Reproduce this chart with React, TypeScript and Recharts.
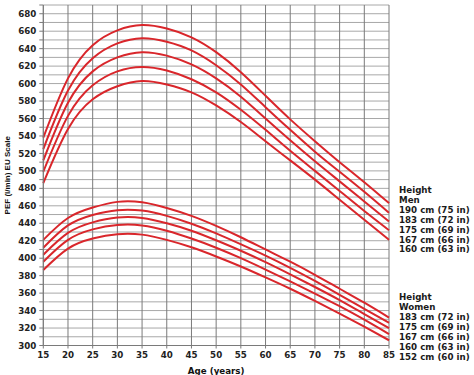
import React from "react";
import { LineChart, Line, XAxis, YAxis, CartesianGrid } from "recharts";

const ages = [15, 20, 25, 30, 35, 40, 45, 50, 55, 60, 65, 70, 75, 80, 85];

const men190 = [538, 606, 644, 661, 667, 663, 653, 636, 613, 586, 559, 534, 510, 487, 463];
const men183 = [525, 592, 629, 646, 652, 648, 638, 621, 599, 573, 547, 522, 499, 476, 452];
const men175 = [512, 578, 614, 630, 636, 632, 622, 606, 585, 560, 535, 511, 488, 465, 442];
const men167 = [499, 563, 598, 614, 619, 615, 605, 590, 570, 547, 523, 500, 477, 454, 432];
const men160 = [486, 548, 582, 597, 603, 599, 590, 575, 556, 534, 512, 490, 467, 444, 421];

const women183 = [421, 446, 458, 464.5, 464, 457.5, 448.5, 437, 424, 410, 396, 381, 365, 349, 332];
const women175 = [412, 437.5, 449.5, 455, 454.5, 448.5, 439.5, 428.5, 416, 403, 389, 374, 358, 342, 326];
const women167 = [404, 429, 441, 446.5, 446, 440, 431.5, 420.5, 408.5, 395.5, 381.5, 367, 352, 336, 320];
const women160 = [396, 421, 433, 438, 437.5, 431.5, 422.5, 412, 400, 387, 373.5, 359.5, 345, 329.5, 313];
const women152 = [386.5, 411, 422.5, 427.5, 427, 421, 412.5, 402, 390.5, 378, 365, 351, 336.5, 321.5, 306];

const xTicks = [15, 20, 25, 30, 35, 40, 45, 50, 55, 60, 65, 70, 75, 80, 85];
const yTicks = [300, 310, 320, 330, 340, 350, 360, 370, 380, 390, 400, 410, 420, 430, 440, 450, 460, 470, 480, 490, 500, 510, 520, 530, 540, 550, 560, 570, 580, 590, 600, 610, 620, 630, 640, 650, 660, 670, 680, 690];

const menLegend = ["Height", "Men", "190 cm (75 in)", "183 cm (72 in)", "175 cm (69 in)", "167 cm (66 in)", "160 cm (63 in)"];
const womenLegend = ["Height", "Women", "183 cm (72 in)", "175 cm (69 in)", "167 cm (66 in)", "160 cm (63 in)", "152 cm (60 in)"];

const seriesKeys = ["m190", "m183", "m175", "m167", "m160", "w183", "w175", "w167", "w160", "w152"];
const seriesArrays = [men190, men183, men175, men167, men160, women183, women175, women167, women160, women152];

const data = ages.map((age, i) => {
  const row: Record<string, number> = { age };
  seriesKeys.forEach((k, j) => {
    row[k] = seriesArrays[j][i];
  });
  return row;
});

const RED = "#d9262b";
const TICK_FONT = "'DejaVu Sans', sans-serif";

export default function App() {
  return (
    <div style={{ position: "absolute", left: 0, top: 0, width: 474, height: 375, background: "#fff" }}>
      <LineChart
        width={474}
        height={375}
        data={data}
        margin={{ top: 5, right: 85, bottom: 0, left: 8 }}
      >
        <CartesianGrid horizontal={true} vertical={false} stroke="#a8a8a8" strokeWidth={1} />
        <CartesianGrid horizontal={false} vertical={true} stroke="#7a7a7a" strokeWidth={1} />
        <XAxis
          dataKey="age"
          type="number"
          domain={[15, 85]}
          ticks={xTicks}
          interval={0}
          height={29.5}
          tickSize={3}
          tickMargin={3}
          stroke="#7a7a7a"
          tick={{ fontFamily: TICK_FONT, fontWeight: 700, fontSize: 8.7, fill: "#222" }}
          label={{
            value: "Age (years)",
            position: "insideBottom",
            offset: 1,
            style: { fontFamily: TICK_FONT, fontWeight: 700, fontSize: 8.7, fill: "#111" },
          }}
        />
        <YAxis
          type="number"
          domain={[300, 690]}
          ticks={yTicks}
          interval={0}
          width={35.3}
          tickSize={4}
          tickMargin={3}
          stroke="#7a7a7a"
          tickFormatter={(v: number) => (v % 20 === 0 ? String(v) : "")}
          tick={{ fontFamily: TICK_FONT, fontWeight: 700, fontSize: 8.7, fill: "#222" }}
          label={{
            value: "PEF (l/min) EU Scale",
            angle: -90,
            position: "insideLeft",
            offset: -1,
            style: { textAnchor: "middle", fontFamily: "'Liberation Sans', Arial, sans-serif", fontWeight: 700, fontSize: 8, fill: "#111" },
          }}
        />
        {seriesKeys.map((k) => (
          <Line
            key={k}
            dataKey={k}
            type="natural"
            stroke={RED}
            strokeWidth={2}
            dot={false}
            isAnimationActive={false}
          />
        ))}
      </LineChart>
      <svg
        width={474}
        height={375}
        style={{ position: "absolute", left: 0, top: 0, pointerEvents: "none" }}
      >
        {menLegend.map((t, i) => (
          <text
            key={"m" + i}
            x={399}
            y={190 + i * 9.9}
            dominantBaseline="central"
            fontFamily={TICK_FONT}
            fontWeight={700}
            fontSize={8.7}
            fill="#1a1a1a"
          >
            {t}
          </text>
        ))}
        {womenLegend.map((t, i) => (
          <text
            key={"w" + i}
            x={399}
            y={297.3 + i * 9.9}
            dominantBaseline="central"
            fontFamily={TICK_FONT}
            fontWeight={700}
            fontSize={8.7}
            fill="#1a1a1a"
          >
            {t}
          </text>
        ))}
      </svg>
    </div>
  );
}
